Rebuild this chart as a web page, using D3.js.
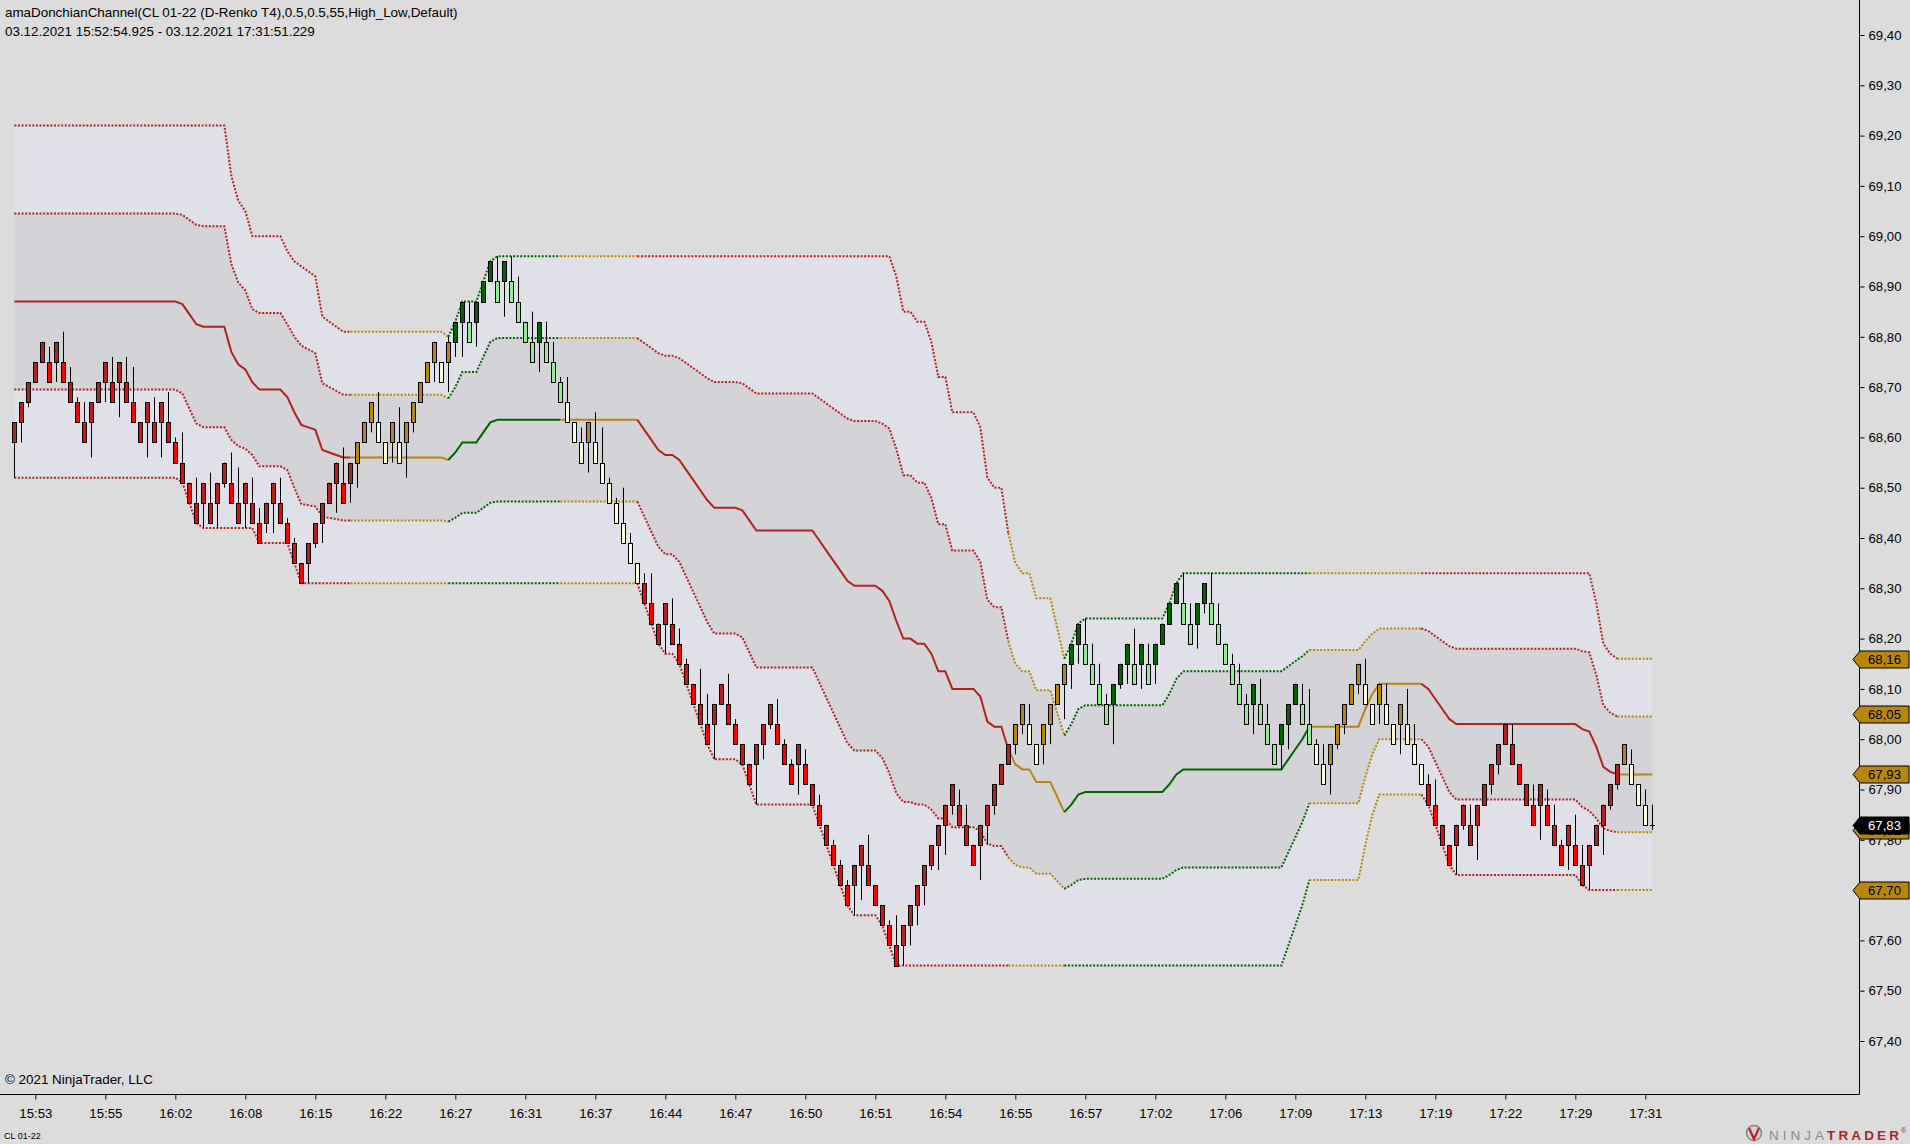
<!DOCTYPE html>
<html><head><meta charset="utf-8">
<script src="https://cdn.jsdelivr.net/npm/d3@7"></script>
<style>
html,body{margin:0;padding:0;background:#dcdcdc;overflow:hidden;}
svg{display:block;}
text{font-family:"Liberation Sans",Arial,sans-serif;}
</style></head><body>
<svg id="c" width="1910" height="1144"></svg>
<script>
// ---- DATA ----
const opens = [
68.59,68.63,68.67,68.71,68.75,68.75,68.75,68.75,68.71,68.67,
68.63,68.63,68.67,68.71,68.71,68.71,68.71,68.67,68.63,68.63,
68.63,68.63,68.63,68.59,68.55,68.51,68.47,68.47,68.47,68.47,
68.51,68.51,68.47,68.47,68.47,68.43,68.43,68.47,68.47,68.43,
68.39,68.35,68.35,68.39,68.43,68.47,68.51,68.51,68.51,68.55,
68.59,68.63,68.63,68.59,68.59,68.59,68.59,68.63,68.67,68.71,
68.75,68.75,68.75,68.79,68.83,68.83,68.83,68.87,68.91,68.91,
68.91,68.91,68.87,68.83,68.79,68.79,68.79,68.75,68.71,68.67,
68.63,68.59,68.59,68.59,68.55,68.51,68.47,68.43,68.39,68.35,
68.31,68.27,68.23,68.23,68.23,68.19,68.15,68.11,68.07,68.03,
68.03,68.07,68.07,68.03,67.99,67.95,67.95,67.99,68.03,68.03,
67.99,67.95,67.95,67.95,67.91,67.87,67.83,67.79,67.75,67.71,
67.71,67.75,67.75,67.71,67.67,67.63,67.59,67.59,67.63,67.67,
67.71,67.75,67.79,67.83,67.87,67.83,67.83,67.79,67.79,67.83,
67.87,67.91,67.95,67.99,68.03,68.03,67.99,67.99,68.03,68.07,
68.11,68.15,68.19,68.19,68.15,68.11,68.07,68.07,68.11,68.15,
68.15,68.15,68.15,68.15,68.19,68.23,68.27,68.27,68.23,68.23,
68.27,68.27,68.23,68.19,68.15,68.11,68.07,68.07,68.07,68.03,
67.99,67.99,68.03,68.07,68.07,68.03,67.99,67.95,67.95,67.99,
68.03,68.07,68.11,68.11,68.07,68.07,68.07,68.03,68.03,68.03,
67.99,67.95,67.91,67.87,67.83,67.79,67.79,67.83,67.83,67.83,
67.87,67.91,67.95,67.99,67.99,67.95,67.91,67.87,67.87,67.87,
67.83,67.79,67.79,67.79,67.75,67.75,67.79,67.83,67.87,67.91,
67.95,67.95,67.91,67.87,67.83];
const closes = [
68.63,68.67,68.71,68.75,68.79,68.71,68.79,68.71,68.67,68.63,
68.59,68.67,68.71,68.75,68.67,68.75,68.67,68.63,68.59,68.67,
68.59,68.67,68.59,68.55,68.51,68.47,68.43,68.51,68.43,68.51,
68.55,68.47,68.43,68.51,68.43,68.39,68.47,68.51,68.43,68.39,
68.35,68.31,68.39,68.43,68.47,68.51,68.55,68.47,68.55,68.59,
68.63,68.67,68.59,68.55,68.63,68.55,68.63,68.67,68.71,68.75,
68.79,68.71,68.79,68.83,68.87,68.79,68.87,68.91,68.95,68.87,
68.95,68.87,68.83,68.79,68.75,68.83,68.75,68.71,68.67,68.63,
68.59,68.55,68.63,68.55,68.51,68.47,68.43,68.39,68.35,68.31,
68.27,68.23,68.19,68.27,68.19,68.15,68.11,68.07,68.03,67.99,
68.07,68.11,68.03,67.99,67.95,67.91,67.99,68.03,68.07,67.99,
67.95,67.91,67.99,67.91,67.87,67.83,67.79,67.75,67.71,67.67,
67.75,67.79,67.71,67.67,67.63,67.59,67.55,67.63,67.67,67.71,
67.75,67.79,67.83,67.87,67.91,67.87,67.79,67.75,67.83,67.87,
67.91,67.95,67.99,68.03,68.07,67.99,67.95,68.03,68.07,68.11,
68.15,68.19,68.23,68.15,68.11,68.07,68.03,68.11,68.15,68.19,
68.11,68.19,68.11,68.19,68.23,68.27,68.31,68.23,68.19,68.27,
68.31,68.23,68.19,68.15,68.11,68.07,68.03,68.11,68.03,67.99,
67.95,68.03,68.07,68.11,68.03,67.99,67.95,67.91,67.99,68.03,
68.07,68.11,68.15,68.07,68.03,68.11,68.03,67.99,68.07,67.99,
67.95,67.91,67.87,67.83,67.79,67.75,67.83,67.87,67.79,67.87,
67.91,67.95,67.99,68.03,67.95,67.91,67.87,67.83,67.91,67.83,
67.79,67.75,67.83,67.75,67.71,67.79,67.83,67.87,67.91,67.95,
67.99,67.91,67.87,67.83,67.83];
const highs = [
68.63,68.67,68.71,68.75,68.79,68.78,68.79,68.81,68.74,68.68,
68.67,68.67,68.71,68.75,68.76,68.75,68.76,68.74,68.63,68.67,
68.68,68.67,68.69,68.60,68.61,68.51,68.52,68.51,68.53,68.51,
68.55,68.57,68.54,68.51,68.52,68.46,68.47,68.51,68.52,68.44,
68.40,68.35,68.39,68.43,68.47,68.51,68.55,68.58,68.55,68.59,
68.63,68.67,68.69,68.59,68.63,68.66,68.63,68.67,68.71,68.75,
68.79,68.75,68.80,68.83,68.87,68.87,68.87,68.91,68.95,68.96,
68.95,68.96,68.92,68.83,68.85,68.83,68.83,68.79,68.72,68.72,
68.63,68.62,68.63,68.65,68.62,68.52,68.48,68.50,68.41,68.35,
68.33,68.33,68.23,68.27,68.28,68.22,68.16,68.11,68.14,68.09,
68.07,68.11,68.13,68.04,67.99,67.95,67.99,68.03,68.07,68.08,
68.00,67.96,67.99,67.98,67.91,67.89,67.83,67.80,67.76,67.72,
67.75,67.79,67.81,67.71,67.67,67.64,67.65,67.63,67.67,67.71,
67.75,67.79,67.83,67.87,67.91,67.90,67.87,67.79,67.83,67.87,
67.91,67.95,67.99,68.03,68.07,68.07,67.99,68.03,68.07,68.11,
68.15,68.19,68.23,68.24,68.19,68.15,68.09,68.11,68.15,68.19,
68.22,68.19,68.19,68.19,68.23,68.27,68.31,68.33,68.27,68.27,
68.31,68.33,68.27,68.19,68.17,68.15,68.09,68.11,68.12,68.07,
67.99,68.03,68.07,68.11,68.11,68.10,68.00,67.99,67.99,68.03,
68.07,68.11,68.15,68.16,68.07,68.11,68.11,68.03,68.07,68.10,
68.03,67.95,67.93,67.92,67.83,67.79,67.83,67.87,67.87,67.87,
67.91,67.95,67.99,68.03,68.03,67.95,67.91,67.91,67.91,67.90,
67.87,67.80,67.83,67.85,67.79,67.79,67.83,67.87,67.91,67.95,
67.99,67.98,67.91,67.90,67.87];
const lows = [
68.52,68.59,68.66,68.71,68.75,68.71,68.71,68.71,68.67,68.63,
68.59,68.56,68.67,68.67,68.67,68.64,68.67,68.63,68.59,68.56,
68.59,68.56,68.59,68.55,68.51,68.47,68.43,68.42,68.43,68.42,
68.50,68.47,68.43,68.42,68.43,68.39,68.41,68.41,68.43,68.39,
68.35,68.31,68.31,68.38,68.39,68.47,68.45,68.47,68.47,68.50,
68.59,68.61,68.59,68.55,68.55,68.55,68.52,68.61,68.67,68.71,
68.71,68.71,68.69,68.76,68.76,68.79,68.78,68.87,68.91,68.87,
68.84,68.87,68.83,68.79,68.75,68.73,68.75,68.71,68.67,68.63,
68.59,68.55,68.53,68.55,68.51,68.47,68.43,68.39,68.35,68.31,
68.27,68.23,68.19,68.17,68.19,68.15,68.11,68.07,68.03,67.99,
67.96,68.07,68.03,67.99,67.95,67.91,67.87,67.96,68.02,67.99,
67.95,67.91,67.89,67.91,67.87,67.83,67.79,67.75,67.71,67.67,
67.65,67.68,67.71,67.67,67.63,67.59,67.55,67.55,67.59,67.63,
67.67,67.74,67.74,67.77,67.85,67.83,67.79,67.75,67.72,67.79,
67.85,67.91,67.95,67.97,68.01,67.99,67.95,67.95,67.99,68.07,
68.04,68.10,68.15,68.15,68.11,68.07,68.03,67.99,68.10,68.11,
68.11,68.10,68.11,68.11,68.19,68.23,68.27,68.23,68.19,68.18,
68.25,68.23,68.19,68.15,68.11,68.07,68.03,68.01,68.03,67.99,
67.95,67.94,67.98,68.07,68.03,67.99,67.95,67.91,67.89,67.98,
68.01,68.07,68.09,68.07,68.03,68.03,68.03,67.99,67.97,67.99,
67.95,67.91,67.87,67.83,67.79,67.75,67.73,67.82,67.79,67.76,
67.87,67.89,67.93,67.99,67.95,67.91,67.87,67.83,67.80,67.83,
67.79,67.75,67.74,67.75,67.71,67.70,67.79,67.77,67.86,67.90,
67.95,67.91,67.87,67.83,67.82];

// trend state per bar, as [state, number of bars]
const trendRuns = [["red",49],["gold",14],["green",16],["gold",11],["red",53],
                   ["gold",8],["green",35],["gold",16],["red",28],["gold",5]];
// Donchian upper / lower channel (55 bars), as [price, number of bars]
const upperRuns = [[69.22,31],[69.12,1],[69.07,1],[69.05,1],[69.00,5],[68.97,1],[68.95,1],
  [68.94,1],[68.93,1],[68.92,1],[68.84,1],[68.83,1],[68.82,1],[68.81,15],[68.80,1],[68.83,1],
  [68.87,3],[68.91,1],[68.95,1],[68.96,57],[68.92,1],[68.85,2],[68.83,2],[68.79,1],[68.72,2],
  [68.65,4],[68.62,1],[68.52,1],[68.50,2],[68.41,1],[68.35,1],[68.33,2],[68.28,3],[68.22,1],
  [68.16,1],[68.19,1],[68.23,1],[68.24,12],[68.27,1],[68.31,1],[68.33,59],[68.27,1],[68.19,1],
  [68.17,1],[68.16,6]];
const lowerRuns = [[68.52,24],[68.51,1],[68.47,1],[68.43,1],[68.42,8],[68.39,5],[68.35,1],
  [68.31,49],[68.27,1],[68.23,1],[68.19,1],[68.17,2],[68.15,1],[68.11,1],[68.07,1],[68.03,1],
  [67.99,1],[67.96,4],[67.95,1],[67.91,1],[67.87,9],[67.83,1],[67.79,1],[67.75,1],[67.71,1],
  [67.67,1],[67.65,4],[67.63,1],[67.59,1],[67.55,56],[67.59,1],[67.63,1],[67.67,1],
  [67.72,8],[67.79,1],[67.85,1],[67.89,7],[67.87,1],[67.83,1],[67.79,1],[67.75,1],[67.73,18],
  [67.71,1],[67.70,10]];
const innerFactor = 0.5;

const timeTickBars = [3,13,23,33,43,53,63,73,83,93,103,113,123,133,143,153,163,173,183,193,203,213,223,233];
const timeLabels = ["15:53","15:55","16:02","16:08","16:15","16:22","16:27","16:31","16:37","16:44",
  "16:47","16:50","16:51","16:54","16:55","16:57","17:02","17:06","17:09","17:13","17:19","17:22","17:29","17:31"];
const priceTicks = [67.40,67.50,67.60,67.70,67.80,67.90,68.00,68.10,68.20,68.30,68.40,
  68.50,68.60,68.70,68.80,68.90,69.00,69.10,69.20,69.30,69.40];
const markerValues = [68.16,68.05,67.93,67.82,67.70];
const lastPrice = 67.83;

const titleLine1 = "amaDonchianChannel(CL 01-22 (D-Renko T4),0.5,0.5,55,High_Low,Default)";
const titleLine2 = "03.12.2021 15:52:54.925 - 03.12.2021 17:31:51.229";

// ---- DRAW ----
const expand = runs => runs.flatMap(([v, c]) => Array(c).fill(v));
const upper = expand(upperRuns), lower = expand(lowerRuns), trend = expand(trendRuns);
const N = opens.length;
const mid = upper.map((u, i) => (u + lower[i]) / 2);
const innerUp = upper.map((u, i) => mid[i] + innerFactor * (u - mid[i]));
const innerLo = lower.map((l, i) => mid[i] - innerFactor * (mid[i] - l));

const svg = d3.select("#c");
const plotRight = 1859.5, plotBottom = 1094.5;
const x = d3.scaleLinear().domain([0, N - 1]).range([14.33, 14.33 + 7 * (N - 1)]);
const y = d3.scaleLinear().domain([67.40, 69.40]).range([1041, 35]);
const idx = d3.range(N);
const FONT = '"Liberation Sans",Arial,sans-serif';

const lineCol = {red: "#b22222", gold: "#b8860b", green: "#006400"};
const barCol = {
  red:   {up: "#b22222", down: "#ff0000"},
  gold:  {up: "#b8860b", down: "#ffffe0"},
  green: {up: "#006400", down: "#90ee90"}
};

svg.append("rect").attr("width", 1910).attr("height", 1144).attr("fill", "#dcdcdc");

// fills
svg.append("path").datum(idx)
  .attr("d", d3.area().x(i => x(i)).y0(i => y(lower[i])).y1(i => y(upper[i])))
  .attr("fill", "#e0e0e9");
svg.append("path").datum(idx)
  .attr("d", d3.area().x(i => x(i)).y0(i => y(innerLo[i])).y1(i => y(innerUp[i])))
  .attr("fill", "#d3d3d8");

// trend runs
const runs = [];
trend.forEach((s, i) => {
  if (!runs.length || runs[runs.length - 1].s !== s) runs.push({s, a: i, b: i});
  else runs[runs.length - 1].b = i;
});
function drawSeries(arr, dotted) {
  runs.forEach(r => {
    const ids = d3.range(Math.max(r.a - 1, 0), r.b + 1);
    svg.append("path").datum(ids)
      .attr("d", d3.line().x(i => x(i)).y(i => y(arr[i])))
      .attr("fill", "none")
      .attr("stroke", lineCol[r.s])
      .attr("stroke-width", 2)
      .attr("stroke-dasharray", dotted ? "2,1.6" : null);
  });
}
drawSeries(upper, true);
drawSeries(innerUp, true);
drawSeries(innerLo, true);
drawSeries(lower, true);
drawSeries(mid, false);

// candles
const gBars = svg.append("g");
idx.forEach(i => {
  const px = Math.round(x(i));
  gBars.append("line")
    .attr("x1", px + 0.5).attr("x2", px + 0.5)
    .attr("y1", y(highs[i])).attr("y2", y(lows[i]))
    .attr("stroke", "#000").attr("stroke-width", 1);
  const o = opens[i], c = closes[i];
  if (o === c) {
    const yy = Math.round(y(c)) + 0.5;
    gBars.append("line").attr("x1", px - 2).attr("x2", px + 3)
      .attr("y1", yy).attr("y2", yy).attr("stroke", "#000").attr("stroke-width", 1);
    return;
  }
  const top = Math.round(y(Math.max(o, c))) + 0.5;
  const bot = Math.round(y(Math.min(o, c))) + 0.5;
  gBars.append("rect")
    .attr("x", px - 1.5).attr("width", 4)
    .attr("y", top).attr("height", bot - top)
    .attr("fill", barCol[trend[i]][c > o ? "up" : "down"])
    .attr("stroke", "#000").attr("stroke-width", 1);
});

// axes
const fmt = v => d3.format(".2f")(v).replace(".", ",");
const yAxis = svg.append("g").attr("transform", `translate(${plotRight},0)`)
  .call(d3.axisRight(y).tickValues(priceTicks).tickFormat(fmt).tickSize(5).tickPadding(4).tickSizeOuter(0));
yAxis.select(".domain").remove();
yAxis.selectAll("text").attr("font-size", 13.2).attr("fill", "#000").attr("font-family", FONT);
yAxis.selectAll("line").attr("stroke", "#000");

const xAxis = svg.append("g").attr("transform", `translate(0,${plotBottom})`)
  .call(d3.axisBottom(x).tickValues(timeTickBars)
    .tickFormat(d => timeLabels[timeTickBars.indexOf(d)]).tickSize(5).tickPadding(9).tickSizeOuter(0));
xAxis.select(".domain").remove();
xAxis.selectAll("text").attr("font-size", 13.2).attr("fill", "#000").attr("font-family", FONT);
xAxis.selectAll("line").attr("stroke", "#000");

svg.append("line").attr("x1", plotRight).attr("x2", plotRight).attr("y1", 0).attr("y2", plotBottom)
  .attr("stroke", "#000").attr("stroke-width", 1);
svg.append("line").attr("x1", 0).attr("x2", plotRight).attr("y1", plotBottom).attr("y2", plotBottom)
  .attr("stroke", "#000").attr("stroke-width", 1);

// price markers on the axis
function marker(v, fill, txt) {
  const yc = Math.round(y(v)) + 0.5;
  const g = svg.append("g");
  g.append("path")
    .attr("d", `M1853,${yc} L1860,${yc - 8.5} L1909,${yc - 8.5} L1909,${yc + 8.5} L1860,${yc + 8.5} Z`)
    .attr("fill", fill).attr("stroke", "#000").attr("stroke-width", 1);
  g.append("text").attr("x", 1868).attr("y", yc + 4.5).attr("font-size", 13.2)
    .attr("fill", txt).text(fmt(v));
}
markerValues.forEach(v => marker(v, "#b8860b", "#000"));
marker(lastPrice, "#000", "#fff");

// texts
svg.append("text").attr("x", 5).attr("y", 17).attr("font-size", 13.4).attr("fill", "#000").text(titleLine1);
svg.append("text").attr("x", 5).attr("y", 36).attr("font-size", 13.4).attr("fill", "#000").text(titleLine2);
svg.append("text").attr("x", 5).attr("y", 1084).attr("font-size", 13.4).attr("fill", "#000").text("© 2021 NinjaTrader, LLC");
svg.append("text").attr("x", 4).attr("y", 1139).attr("font-size", 9).attr("fill", "#000").text("CL 01-22");

// logo
const logo = svg.append("g");
logo.append("circle").attr("cx", 1754).attr("cy", 1133).attr("r", 7.5)
  .attr("fill", "#d8d0cc").attr("stroke", "#8c8480").attr("stroke-width", 1.5);
logo.append("path").attr("d", "M1749,1128 L1754,1139 L1759,1128")
  .attr("fill", "none").attr("stroke", "#a8262c").attr("stroke-width", 2.2);
logo.append("text").attr("x", 1769).attr("y", 1140).attr("font-size", 13.5)
  .attr("textLength", 55).attr("lengthAdjust", "spacing").attr("fill", "#8a8a8a").text("NINJA");
logo.append("text").attr("x", 1827).attr("y", 1140).attr("font-size", 13.5).attr("font-weight", "bold")
  .attr("textLength", 72).attr("lengthAdjust", "spacing").attr("fill", "#a8262c").text("TRADER");
logo.append("text").attr("x", 1901).attr("y", 1133).attr("font-size", 7)
  .attr("fill", "#a8262c").text("®");
</script>
</body></html>
